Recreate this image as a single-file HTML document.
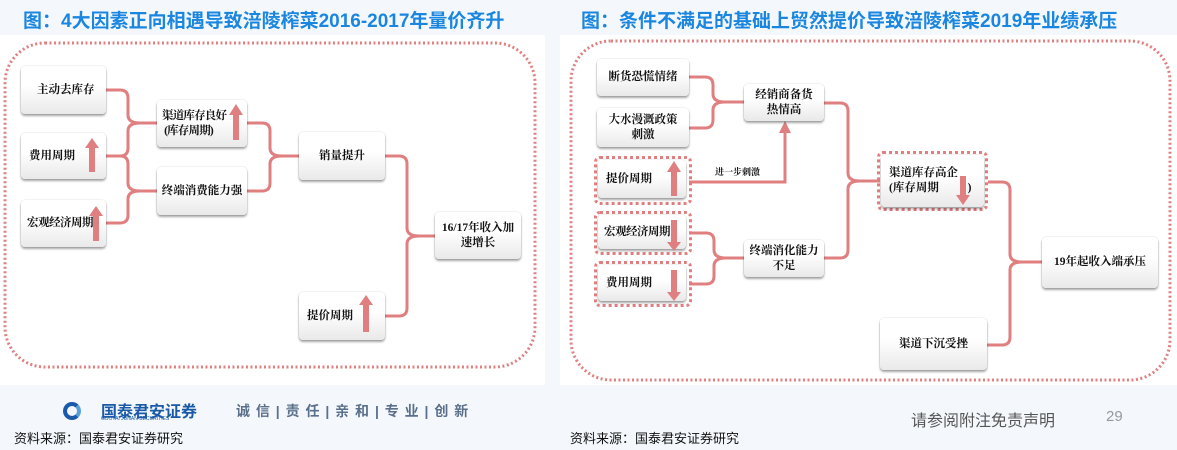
<!DOCTYPE html>
<html><head><meta charset="utf-8"><style>
body{margin:0;width:1177px;height:450px;overflow:hidden;background:#f4f8fc;position:relative;font-family:"Liberation Sans","Noto Sans CJK SC",sans-serif}
.t{position:absolute;top:6px;font-size:19px;font-weight:bold;color:#1a86e0;white-space:nowrap}
.panel{position:absolute;background:#fff}
.b{position:absolute;background:linear-gradient(#ffffff 40%,#e9e9e9);border-radius:4px;box-shadow:0 2px 2px rgba(0,0,0,.35),0 0 1px rgba(0,0,0,.3);font-family:"Liberation Serif","Noto Serif CJK SC",serif;font-weight:bold;font-size:11.5px;color:#111;display:flex;align-items:center;justify-content:center;text-align:center;line-height:15px;box-sizing:border-box}
.d{position:absolute;border:3px dotted #e07f80;border-radius:6px}
.f{position:absolute;white-space:nowrap}
</style></head><body>
<div class="panel" style="left:0;top:35px;width:545px;height:350px"></div>
<div class="panel" style="left:560px;top:35px;width:617px;height:350px"></div>
<div class="t" style="left:23px">图：4大因素正向相遇导致涪陵榨菜2016-2017年量价齐升</div>
<div class="t" style="left:581px">图：条件不满足的基础上贸然提价导致涪陵榨菜2019年业绩承压</div>

<svg style="position:absolute;left:0;top:0" width="1177" height="450">
<g fill="none" stroke="#e07f80" stroke-dasharray="2 2.5" stroke-width="3">
<rect x="5" y="43" width="530" height="324" rx="40"/>
<rect x="571" y="41" width="599" height="339" rx="40"/>
</g>
<g fill="none" stroke="#e07f80" stroke-width="3">
<path d="M106 90 H120 Q128 90 128 98 V115 Q128 123 140 123 H157"/>
<path d="M106 156 H120 Q128 156 128 148 V131 Q128 123 140 123"/>
<path d="M106 156 H120 Q128 156 128 164 V183 Q128 191 140 191 H157"/>
<path d="M106 223 H120 Q128 223 128 215 V199 Q128 191 140 191"/>
<path d="M247 123 H262 Q270 123 270 131 V148 Q270 156 282 156 H299"/>
<path d="M247 191 H262 Q270 191 270 183 V164 Q270 156 282 156"/>
<path d="M385 156 H399 Q407 156 407 164 V228 Q407 236 419 236 H435"/>
<path d="M385 316 H399 Q407 316 407 308 V244 Q407 236 419 236"/>
<path d="M689 77 H705 Q713 77 713 85 V94 Q713 102 725 102 H744"/>
<path d="M689 128 H705 Q713 128 713 120 V110 Q713 102 725 102"/>
<path d="M689 233 H706 Q714 233 714 241 V250 Q714 258 726 258 H744"/>
<path d="M689 284 H706 Q714 284 714 276 V266 Q714 258 726 258"/>
<path d="M824 103 H840 Q848 103 848 111 V173 Q848 181 860 181 H880"/>
<path d="M824 258 H840 Q848 258 848 250 V189 Q848 181 860 181"/>
<path d="M988 182 H1002 Q1010 182 1010 190 V254 Q1010 262 1022 262 H1042"/>
<path d="M987 345 H1002 Q1010 345 1010 337 V270 Q1010 262 1022 262"/>
<path d="M689 182 H785 V132"/>
</g>
<polygon points="779,133 791,133 785,121" fill="#e07f80"/>
<text x="715" y="175" font-size="9" font-weight="bold" font-family="Liberation Serif,Noto Serif CJK SC,serif" fill="#111">进一步刺激</text>
</svg>

<div class="b" style="left:21px;top:66px;width:85px;height:48px;justify-content:flex-start;padding-left:16px">主动去库存</div>
<div class="b" style="left:21px;top:133px;width:85px;height:46px;justify-content:flex-start;padding-left:8px">费用周期</div>
<div class="b" style="left:21px;top:200px;width:85px;height:47px;justify-content:flex-start;padding-left:6px;letter-spacing:-0.5px">宏观经济周期</div>
<div class="b" style="left:157px;top:100px;width:90px;height:47px;justify-content:flex-start;padding-left:5px;text-align:left;letter-spacing:-0.8px">渠道库存良好<br>&nbsp;(库存周期)</div>
<div class="b" style="left:157px;top:167px;width:90px;height:48px">终端消费能力强</div>
<div class="b" style="left:299px;top:132px;width:86px;height:48px">销量提升</div>
<div class="b" style="left:435px;top:212px;width:86px;height:47px">16/17年收入加<br>速增长</div>
<div class="b" style="left:299px;top:292px;width:86px;height:48px;justify-content:flex-start;padding-left:8px">提价周期</div>

<div class="b" style="left:597px;top:59px;width:92px;height:37px">断货恐慌情绪</div>
<div class="b" style="left:597px;top:108px;width:92px;height:39px">大水漫溉政策<br>刺激</div>
<div class="d" style="left:594px;top:156px;width:92px;height:43px"></div>
<div class="b" style="left:598px;top:160px;width:88px;height:38px;justify-content:flex-start;padding-left:8px">提价周期</div>
<div class="d" style="left:594px;top:211px;width:92px;height:38px"></div>
<div class="b" style="left:598px;top:215px;width:88px;height:34px;justify-content:flex-start;padding-left:6px;letter-spacing:-0.5px">宏观经济周期</div>
<div class="d" style="left:594px;top:261px;width:92px;height:40px"></div>
<div class="b" style="left:598px;top:265px;width:88px;height:36px;justify-content:flex-start;padding-left:8px">费用周期</div>
<div class="b" style="left:744px;top:84px;width:80px;height:37px">经销商备货<br>热情高</div>
<div class="b" style="left:744px;top:240px;width:80px;height:37px">终端消化能力<br>不足</div>
<div class="d" style="left:877px;top:151px;width:105px;height:54px"></div>
<div class="b" style="left:881px;top:155px;width:103px;height:52px;justify-content:flex-start;padding-left:8px;text-align:left">渠道库存高企<br>(库存周期&nbsp;&nbsp;&nbsp;&nbsp;&nbsp;&nbsp;&nbsp;&nbsp;&nbsp;&nbsp;)</div>
<div class="b" style="left:1042px;top:237px;width:116px;height:51px">19年起收入端承压</div>
<div class="b" style="left:880px;top:318px;width:107px;height:52px">渠道下沉受挫</div>

<svg style="position:absolute;left:0;top:0" width="1177" height="450" fill="#e07f80">
<path d="M89 172 V148 H85 L92 138 L99 148 H95 V172Z"/>
<path d="M93 241 V216 H89 L96 206 L103 216 H99 V241Z"/>
<path d="M233 140 V115 H229 L236 104 L243 115 H239 V140Z"/>
<path d="M363 332 V305 H359 L366 295 L373 305 H369 V332Z"/>
<path d="M671 196 V172 H667 L674 161 L681 172 H677 V196Z"/>
<path d="M671 220 V242 H667 L674 251 L681 242 H677 V220Z"/>
<path d="M671 270 V292 H667 L674 301 L681 292 H677 V270Z"/>
<path d="M960 176 V195 H956 L963 205 L970 195 H966 V176Z"/>
</svg>

<div class="f" style="left:63px;top:402px;width:18px;height:18px;border-radius:50%;border:4px solid #1a5aa8;border-right-color:#5aa0d8;box-sizing:border-box"></div>
<div class="f" style="left:101px;top:398px;font-size:16px;font-weight:bold;color:#1a5aa8">国泰君安证券</div>
<div class="f" style="left:101px;top:416px;font-size:5px;color:#1a5aa8">GUOTAI JUNAN SECURITIES</div>
<div class="f" style="left:236px;top:401px;font-size:14px;font-weight:bold;color:#5a6f8a;letter-spacing:1px">诚 信 | 责 任 | 亲 和 | 专 业 | 创 新</div>
<div class="f" style="left:14px;top:428px;font-size:13px;color:#111">资料来源：国泰君安证券研究</div>
<div class="f" style="left:570px;top:428px;font-size:13px;color:#111">资料来源：国泰君安证券研究</div>
<div class="f" style="left:911px;top:407px;font-size:16px;color:#555">请参阅附注免责声明</div>
<div class="f" style="left:1106px;top:408px;font-size:15px;color:#999">29</div>
</body></html>
